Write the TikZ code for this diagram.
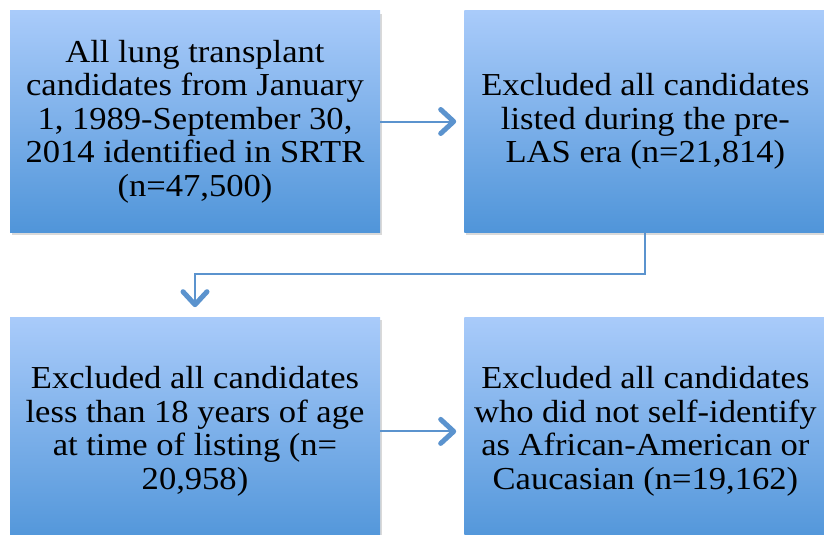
\documentclass[tikz,border=0pt]{standalone}
\usepackage{fontspec}
\setmainfont{Liberation Serif}[FakeStretch=1.08]
\usetikzlibrary{arrows.meta,positioning,shadows}
\definecolor{boxtop}{HTML}{A9CBFA}
\definecolor{boxbot}{HTML}{5095D9}
\definecolor{lnk}{HTML}{5B93CE}

\begin{document}
\begin{tikzpicture}[x=1pt,y=1pt,font=\fontsize{32}{33.5}\selectfont,
  block/.style={rectangle,top color=boxtop,bottom color=boxbot,inner sep=0pt,
    align=center,minimum width=370pt,minimum height=221pt,
    drop shadow={shadow xshift=2pt,shadow yshift=-3pt,opacity=.3}},
  arr/.style={draw=lnk,line width=2pt,
    -{Straight Barb[length=13pt,width=24pt,line width=5pt,round]}}]
  \useasboundingbox (0,0) rectangle (824,-535);
  \node[block] (all) at (195,-121.5) {All lung transplant\\candidates from January\\1, 1989-September 30,\\2014 identified in SRTR\\(n=47,500)};
  \node[block,minimum width=362pt,right=84pt of all] (prelas) {Excluded all candidates\\listed during the pre-\\LAS era (n=21,814)};
  \node[block,minimum height=228pt,below=85pt of all] (minors) {Excluded all candidates\\less than 18 years of age\\at time of listing (n=\\20,958)};
  \node[block,minimum width=362pt,minimum height=228pt,right=84pt of minors] (race) {Excluded all candidates\\who did not self-identify\\as African-American or\\Caucasian (n=19,162)};
  \draw[arr,shorten >=8pt] (all) -- (prelas);
  \draw[arr,shorten >=10pt] (prelas.south) -- ++(0,-42) -| (minors.north);
  \draw[arr,shorten >=8pt] (minors) -- (race);
\end{tikzpicture}
\end{document}
